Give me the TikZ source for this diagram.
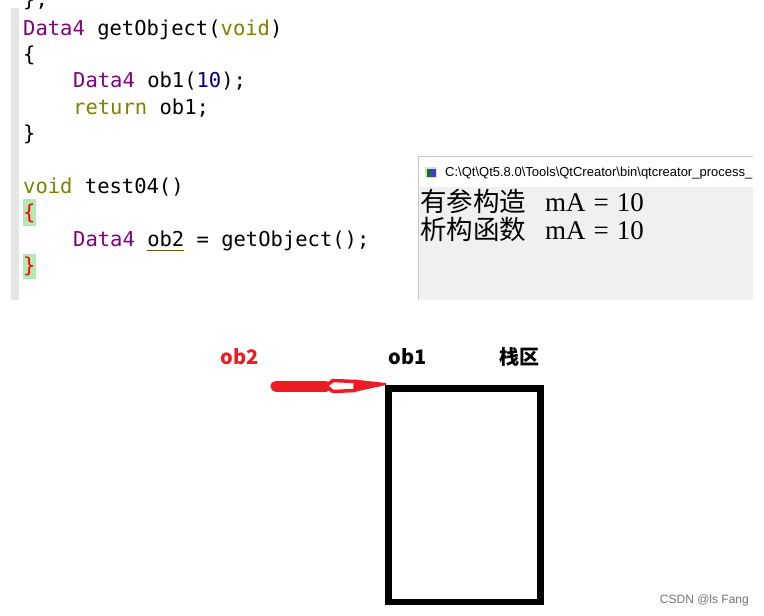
\documentclass[tikz,border=0pt]{standalone}
\usepackage{fontspec}
\newfontfamily\codefont{DejaVu Sans Mono}
\newfontfamily\cjk{Noto Sans CJK SC}
\newfontfamily\uisans{Liberation Sans}
\newfontfamily\conserif{Liberation Serif}
\definecolor{kwpurple}{HTML}{800080}
\definecolor{kwolive}{HTML}{808000}
\definecolor{numblue}{HTML}{000080}
\definecolor{bracered}{HTML}{FF0000}
\definecolor{hlgreen}{HTML}{B4E8B4}
\definecolor{bargray}{HTML}{E6E6E6}
\definecolor{consolegray}{HTML}{F0F0F0}
\definecolor{framegray}{HTML}{C8C8C8}
\definecolor{arrowred}{HTML}{ED1C24}
\tikzset{
  codeline/.style={anchor=base west, inner sep=0pt, font=\codefont\fontsize{20.5}{24}\selectfont},
  conline/.style={anchor=base west, inner sep=0pt, font=\cjk\fontsize{26.5}{30}\selectfont},
  conlatin/.style={anchor=base west, inner sep=0pt, font=\conserif\fontsize{27}{30}\selectfont},
  lbl/.style={inner sep=0pt, font=\cjk\bfseries\fontsize{20}{22}\selectfont},
  stackbox/.style={draw=black, line width=6.5pt},
}
\begin{document}
\begin{tikzpicture}[x=1pt,y=-1pt]
\useasboundingbox (0,0) rectangle (764,616);
\fill[white] (0,0) rectangle (764,616);
% code panel
\fill[bargray] (11,8) rectangle (19,300);
\fill[hlgreen] (23,199) rectangle (35.5,226);
\fill[hlgreen] (23,254) rectangle (35.5,279);
\begin{scope}
\clip (0,0) rectangle (764,616);
\node[codeline] (l0) at (23,6) {\};};
\end{scope}
\node[codeline] (l1) at (23,35) {\textcolor{kwpurple}{Data4} getObject(\textcolor{kwolive}{void})};
\node[codeline] (l2) at (23,61.4) {\{};
\node[codeline] (l3) at (73,87.8) {\textcolor{kwpurple}{Data4} ob1(\textcolor{numblue}{10});};
\node[codeline] (l4) at (73,114.2) {\textcolor{kwolive}{return} ob1;};
\node[codeline] (l5) at (23,140.6) {\}};
\node[codeline] (l7) at (23,193.4) {\textcolor{kwolive}{void} test04()};
\node[codeline] (l8) at (23,219.8) {\textcolor{bracered}{\{}};
\node[codeline] (l9) at (73,246.2) {\textcolor{kwpurple}{Data4} ob2 = getObject();};
\node[codeline] (l10) at (23,272.6) {\textcolor{bracered}{\}}};
\draw[kwolive!70!black, line width=1pt] (147,250) -- (184,250);
% console window
\fill[consolegray] (418.5,187) rectangle (753,300);
\draw[framegray, line width=1pt] (418.5,300) -- (418.5,156.5) -- (753,156.5);
\fill[framegray!60!white] (425,167) rectangle (437,178);
\fill[green!50!black] (426.5,169) rectangle (430,176.5);
\fill[blue!50!gray] (430,169) rectangle (435.5,176.5);
\node[anchor=west, inner sep=0pt, font=\uisans\fontsize{13}{15}\selectfont] (title) at (445,173) {C:\textbackslash Qt\textbackslash Qt5.8.0\textbackslash Tools\textbackslash QtCreator\textbackslash bin\textbackslash qtcreator\_process\_};
\node[conline] (c1) at (420,211) {有参构造};
\node[conlatin] (c1b) at (545,211) {mA\hspace{8pt}=\hspace{8pt}10};
\node[conline] (c2) at (420,239) {析构函数};
\node[conlatin] (c2b) at (545,239) {mA\hspace{8pt}=\hspace{8pt}10};
% stack diagram
\node[lbl, text=arrowred] (ob2) at (240,357) {ob2};
\node[lbl] (ob1) at (408,357) {ob1};
\node[lbl] (stack) at (519,357) {栈区};
\draw[stackbox] (388.5,388.5) rectangle (540.5,602);
\coordinate (tip) at (386,383);
\coordinate (tail) at (276,386);
\coordinate (headl) at (326,386);
% hand-drawn red arrow
\draw[arrowred, line width=11pt, line cap=round] (tail) -- (headl);
\fill[arrowred] (354,379.5) -- (tip) -- (386,385) -- (354,392) -- cycle;
\draw[arrowred, line width=3.5pt, line join=round, fill=white] (headl) -- (333,380.5) -- (355,381.5) -- (355,390.5) -- (333,391.5) -- cycle;
% watermark
\node[anchor=east, inner sep=0pt, text=black!55, font=\uisans\fontsize{12}{14}\selectfont] (wm) at (749,600) {CSDN @ls Fang};
\end{tikzpicture}
\end{document}
